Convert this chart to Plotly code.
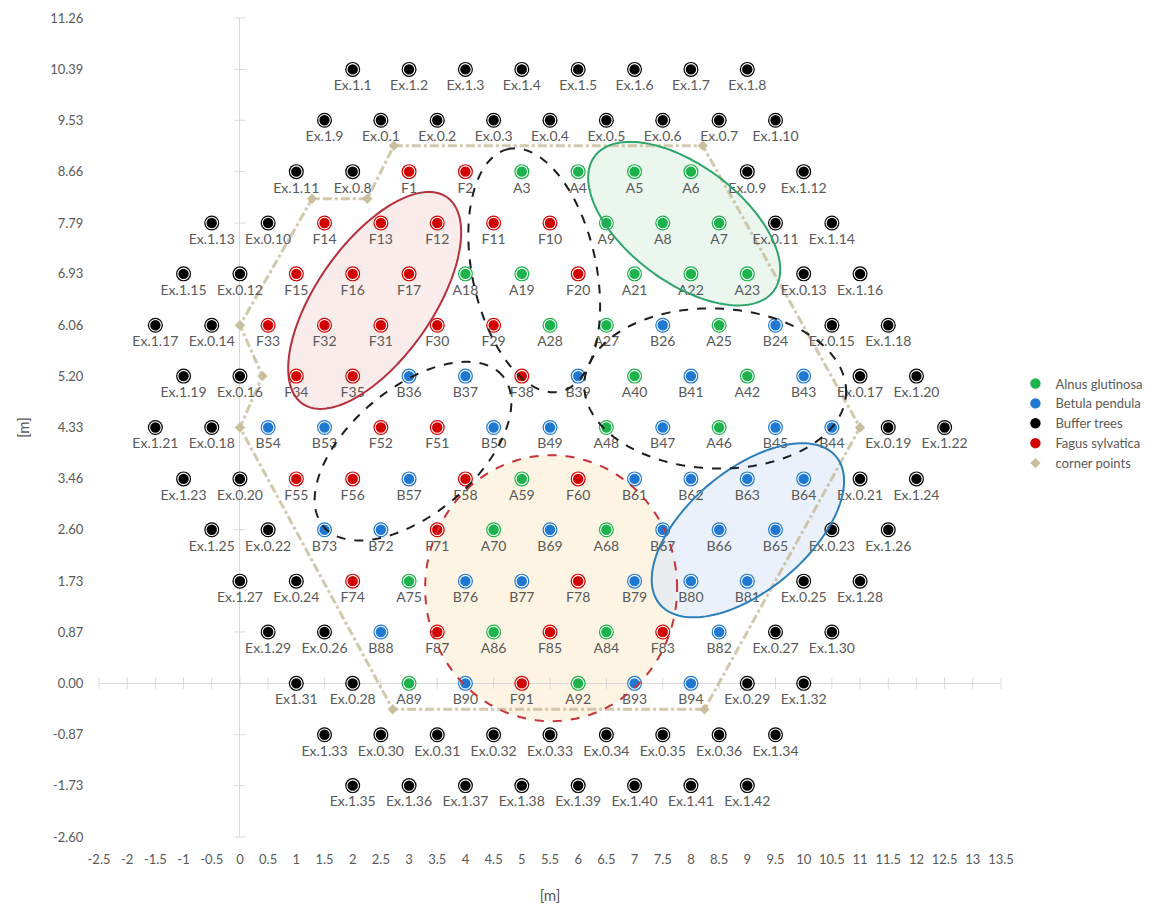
import numpy as np
import plotly.graph_objects as go

# ---------------- data ----------------
alnus_labels = ["A3", "A4", "A5", "A6", "A9", "A8", "A7", "A18", "A19", "A21", "A22", "A23",
                "A28", "A27", "A25", "A40", "A42", "A48", "A46", "A59", "A70", "A68", "A75",
                "A86", "A84", "A89", "A92"]
alnus_x = [5, 6, 7, 8, 6.5, 7.5, 8.5, 4, 5, 7, 8, 9,
           5.5, 6.5, 8.5, 7, 9, 6.5, 8.5, 5, 4.5, 6.5, 3,
           4.5, 6.5, 3, 6]
alnus_y = [8.66, 8.66, 8.66, 8.66, 7.79, 7.79, 7.79, 6.93, 6.93, 6.93, 6.93, 6.93,
           6.06, 6.06, 6.06, 5.20, 5.20, 4.33, 4.33, 3.46, 2.60, 2.60, 1.73,
           0.87, 0.87, 0.00, 0.00]

betula_labels = ["B26", "B24", "B36", "B37", "B39", "B41", "B43", "B54", "B53", "B50", "B49",
                 "B47", "B45", "B44", "B57", "B61", "B62", "B63", "B64", "B73", "B72", "B69",
                 "B67", "B66", "B65", "B76", "B77", "B79", "B80", "B81", "B88", "B82", "B90",
                 "B93", "B94"]
betula_x = [7.5, 9.5, 3, 4, 6, 8, 10, 0.5, 1.5, 4.5, 5.5,
            7.5, 9.5, 10.5, 3, 7, 8, 9, 10, 1.5, 2.5, 5.5,
            7.5, 8.5, 9.5, 4, 5, 7, 8, 9, 2.5, 8.5, 4,
            7, 8]
betula_y = [6.06, 6.06, 5.20, 5.20, 5.20, 5.20, 5.20, 4.33, 4.33, 4.33, 4.33,
            4.33, 4.33, 4.33, 3.46, 3.46, 3.46, 3.46, 3.46, 2.60, 2.60, 2.60,
            2.60, 2.60, 2.60, 1.73, 1.73, 1.73, 1.73, 1.73, 0.87, 0.87, 0.00,
            0.00, 0.00]

fagus_labels = ["F1", "F2", "F14", "F13", "F12", "F11", "F10", "F15", "F16", "F17", "F20",
                "F33", "F32", "F31", "F30", "F29", "F34", "F35", "F38", "F52", "F51", "F55",
                "F56", "F58", "F60", "F71", "F74", "F78", "F87", "F85", "F83", "F91"]
fagus_x = [3, 4, 1.5, 2.5, 3.5, 4.5, 5.5, 1, 2, 3, 6,
           0.5, 1.5, 2.5, 3.5, 4.5, 1, 2, 5, 2.5, 3.5, 1,
           2, 4, 6, 3.5, 2, 6, 3.5, 5.5, 7.5, 5]
fagus_y = [8.66, 8.66, 7.79, 7.79, 7.79, 7.79, 7.79, 6.93, 6.93, 6.93, 6.93,
           6.06, 6.06, 6.06, 6.06, 6.06, 5.20, 5.20, 5.20, 4.33, 4.33, 3.46,
           3.46, 3.46, 3.46, 2.60, 1.73, 1.73, 0.87, 0.87, 0.87, 0.00]

buffer_labels = [
    "Ex.1.1", "Ex.1.2", "Ex.1.3", "Ex.1.4", "Ex.1.5", "Ex.1.6", "Ex.1.7", "Ex.1.8",
    "Ex.1.9", "Ex.0.1", "Ex.0.2", "Ex.0.3", "Ex.0.4", "Ex.0.5", "Ex.0.6", "Ex.0.7", "Ex.1.10",
    "Ex.1.11", "Ex.0.8", "Ex.0.9", "Ex.1.12",
    "Ex.1.13", "Ex.0.10", "Ex.0.11", "Ex.1.14",
    "Ex.1.15", "Ex.0.12", "Ex.0.13", "Ex.1.16",
    "Ex.1.17", "Ex.0.14", "Ex.0.15", "Ex.1.18",
    "Ex.1.19", "Ex.0.16", "Ex.0.17", "Ex.1.20",
    "Ex.1.21", "Ex.0.18", "Ex.0.19", "Ex.1.22",
    "Ex.1.23", "Ex.0.20", "Ex.0.21", "Ex.1.24",
    "Ex.1.25", "Ex.0.22", "Ex.0.23", "Ex.1.26",
    "Ex.1.27", "Ex.0.24", "Ex.0.25", "Ex.1.28",
    "Ex.1.29", "Ex.0.26", "Ex.0.27", "Ex.1.30",
    "Ex1.31", "Ex.0.28", "Ex.0.29", "Ex.1.32",
    "Ex.1.33", "Ex.0.30", "Ex.0.31", "Ex.0.32", "Ex.0.33", "Ex.0.34", "Ex.0.35", "Ex.0.36", "Ex.1.34",
    "Ex.1.35", "Ex.1.36", "Ex.1.37", "Ex.1.38", "Ex.1.39", "Ex.1.40", "Ex.1.41", "Ex.1.42",
]
buffer_x = [
    2, 3, 4, 5, 6, 7, 8, 9,
    1.5, 2.5, 3.5, 4.5, 5.5, 6.5, 7.5, 8.5, 9.5,
    1, 2, 9, 10,
    -0.5, 0.5, 9.5, 10.5,
    -1, 0, 10, 11,
    -1.5, -0.5, 10.5, 11.5,
    -1, 0, 11, 12,
    -1.5, -0.5, 11.5, 12.5,
    -1, 0, 11, 12,
    -0.5, 0.5, 10.5, 11.5,
    0, 1, 10, 11,
    0.5, 1.5, 9.5, 10.5,
    1, 2, 9, 10,
    1.5, 2.5, 3.5, 4.5, 5.5, 6.5, 7.5, 8.5, 9.5,
    2, 3, 4, 5, 6, 7, 8, 9,
]
buffer_y = [
    10.39, 10.39, 10.39, 10.39, 10.39, 10.39, 10.39, 10.39,
    9.53, 9.53, 9.53, 9.53, 9.53, 9.53, 9.53, 9.53, 9.53,
    8.66, 8.66, 8.66, 8.66,
    7.79, 7.79, 7.79, 7.79,
    6.93, 6.93, 6.93, 6.93,
    6.06, 6.06, 6.06, 6.06,
    5.20, 5.20, 5.20, 5.20,
    4.33, 4.33, 4.33, 4.33,
    3.46, 3.46, 3.46, 3.46,
    2.60, 2.60, 2.60, 2.60,
    1.73, 1.73, 1.73, 1.73,
    0.87, 0.87, 0.87, 0.87,
    0.00, 0.00, 0.00, 0.00,
    -0.87, -0.87, -0.87, -0.87, -0.87, -0.87, -0.87, -0.87, -0.87,
    -1.73, -1.73, -1.73, -1.73, -1.73, -1.73, -1.73, -1.73,
]

corner_x = [2.73, 8.21, 11.0, 8.24, 2.71, 0.0, 0.4, 0.0, 1.28, 2.26]
corner_y = [9.10, 9.10, 4.33, -0.44, -0.44, 4.33, 5.20, 6.06, 8.20, 8.20]

x_tick_labels = ["-2.5", "-2", "-1.5", "-1", "-0.5", "0", "0.5", "1", "1.5", "2", "2.5", "3",
                 "3.5", "4", "4.5", "5", "5.5", "6", "6.5", "7", "7.5", "8", "8.5", "9", "9.5",
                 "10", "10.5", "11", "11.5", "12", "12.5", "13", "13.5"]
y_tick_labels = ["11.26", "10.39", "9.53", "8.66", "7.79", "6.93", "6.06", "5.20", "4.33",
                 "3.46", "2.60", "1.73", "0.87", "0.00", "-0.87", "-1.73", "-2.60"]

# ---------------- layout geometry ----------------
W, H = 1158, 913
ML, MR, MT, MB = 99, 157, 18, 76
XMIN, XMAX = -2.5, 13.5
YMIN, YMAX = -2.60, 11.26
PX_X = (W - ML - MR) / (XMAX - XMIN)
PX_Y = (H - MT - MB) / (YMAX - YMIN)

FONT = "Lato, 'Open Sans', sans-serif"
GRAY_TEXT = "#595959"
AXIS_GRAY = "#d9d9d9"

GREEN = "#1cb24c"
BLUE = "#1f78d1"
BLACK = "#000000"
RED = "#d20000"
CORNER = "#c9bf9f"

# highlighted groups: centre in data units, semi-axes in pixels, rotation in degrees
ELLIPSES = [
    dict(cx=5.52, cy=1.61, a=126, b=133, ang=0, line="#c8323a", dash="dash", fill="rgba(253,240,218,0.75)"),
    dict(cx=2.39, cy=6.48, a=126, b=58, ang=55, line="#b52f3c", dash="solid", fill="rgba(248,218,218,0.5)"),
    dict(cx=7.88, cy=7.78, a=112, b=58, ang=-37, line="#2ea56c", dash="solid", fill="rgba(222,240,228,0.6)"),
    dict(cx=9.01, cy=2.59, a=115, b=60, ang=40, line="#2c7fbb", dash="solid", fill="rgba(220,232,246,0.6)"),
    dict(cx=5.22, cy=6.99, a=124, b=62, ang=102, line="#1e1e1e", dash="dash", fill=None),
    dict(cx=8.43, cy=4.99, a=131, b=80, ang=-2, line="#1e1e1e", dash="dash", fill=None),
    dict(cx=3.07, cy=3.93, a=117, b=63, ang=40, line="#1e1e1e", dash="dash", fill=None),
]


def ellipse_path(cx, cy, a, b, ang, n=160):
    t = np.linspace(0, 2 * np.pi, n, endpoint=False)
    ex, ey = a * np.cos(t), b * np.sin(t)
    r = np.deg2rad(ang)
    px = ex * np.cos(r) - ey * np.sin(r)
    py = ex * np.sin(r) + ey * np.cos(r)
    xs = cx + px / PX_X
    ys = cy + py / PX_Y
    pts = [f"{x:.4f},{y:.4f}" for x, y in zip(xs, ys)]
    return "M " + " L ".join(pts) + " Z"


fig = go.Figure()

# tick marks crossing the axis lines
x_tick_vals = [float(t) for t in x_tick_labels]
y_tick_vals = [float(t) for t in y_tick_labels]
fig.add_trace(go.Scatter(
    x=x_tick_vals, y=[0] * len(x_tick_vals), mode="markers",
    marker=dict(symbol="line-ns-open", size=8, color=AXIS_GRAY,
                line=dict(color=AXIS_GRAY, width=1)),
    showlegend=False, hoverinfo="skip", cliponaxis=False))
fig.add_trace(go.Scatter(
    x=[0] * len(y_tick_vals), y=y_tick_vals, mode="markers",
    marker=dict(symbol="line-ew-open", size=8, color=AXIS_GRAY,
                line=dict(color=AXIS_GRAY, width=1)),
    showlegend=False, hoverinfo="skip", cliponaxis=False))

# outline of the plot through the corner points
fig.add_trace(go.Scatter(
    x=corner_x + corner_x[:1], y=corner_y + corner_y[:1], mode="lines",
    line=dict(color=CORNER, width=3, dash="dashdot"), opacity=0.85,
    showlegend=False, hoverinfo="skip"))


def add_species(name, xs, ys, labels, color):
    # outer disc carries the label text
    fig.add_trace(go.Scatter(
        x=xs, y=ys, mode="markers+text", text=labels, textposition="bottom center",
        textfont=dict(family=FONT, size=14, color=GRAY_TEXT),
        marker=dict(size=15, color=color, line=dict(width=0)),
        showlegend=False, hoverinfo="skip", cliponaxis=False))
    # inner disc with a thin white ring
    fig.add_trace(go.Scatter(
        x=xs, y=ys, mode="markers", name=name,
        marker=dict(size=11.5, color=color, line=dict(color="white", width=1.1)),
        hovertemplate="%{text}<extra></extra>", text=labels, cliponaxis=False))


add_species("Alnus glutinosa", alnus_x, alnus_y, alnus_labels, GREEN)
add_species("Betula pendula", betula_x, betula_y, betula_labels, BLUE)
add_species("Buffer trees", buffer_x, buffer_y, buffer_labels, BLACK)
add_species("Fagus sylvatica", fagus_x, fagus_y, fagus_labels, RED)

fig.add_trace(go.Scatter(
    x=corner_x, y=corner_y, mode="markers", name="corner points",
    marker=dict(symbol="diamond", size=8, color=CORNER), hoverinfo="skip"))

shapes = []
for e in ELLIPSES:
    path = ellipse_path(e["cx"], e["cy"], e["a"], e["b"], e["ang"])
    if e["fill"]:
        shapes.append(dict(type="path", path=path, xref="x", yref="y", layer="below",
                           fillcolor=e["fill"], line=dict(width=0)))
    shapes.append(dict(type="path", path=path, xref="x", yref="y", layer="above",
                       fillcolor="rgba(0,0,0,0)",
                       line=dict(color=e["line"], width=2, dash=e["dash"])))

fig.update_layout(
    width=W, height=H,
    margin=dict(l=ML, r=MR, t=MT, b=MB, autoexpand=False),
    paper_bgcolor="white", plot_bgcolor="white",
    font=dict(family=FONT, size=13, color=GRAY_TEXT),
    shapes=shapes,
    showlegend=True,
    legend=dict(x=1.016, y=0.572, xanchor="left", yanchor="top",
                font=dict(family=FONT, size=13, color=GRAY_TEXT),
                bgcolor="rgba(0,0,0,0)", itemwidth=30),
    xaxis=dict(range=[XMIN, XMAX], tickvals=x_tick_vals, ticktext=x_tick_labels,
               showgrid=False, zeroline=True, zerolinecolor=AXIS_GRAY, zerolinewidth=1,
               showline=False, ticks="outside", ticklen=10, tickcolor="rgba(0,0,0,0)",
               tickfont=dict(family=FONT, size=13, color=GRAY_TEXT),
               title=dict(text="[m]", font=dict(family=FONT, size=15, color=GRAY_TEXT),
                          standoff=24)),
    yaxis=dict(range=[YMIN, YMAX], tickvals=y_tick_vals, ticktext=y_tick_labels,
               showgrid=False, zeroline=True, zerolinecolor=AXIS_GRAY, zerolinewidth=1,
               showline=False, ticks="outside", ticklen=12, tickcolor="rgba(0,0,0,0)",
               tickfont=dict(family=FONT, size=13, color=GRAY_TEXT),
               title=dict(text="[m]", font=dict(family=FONT, size=15, color=GRAY_TEXT),
                          standoff=16)),
)

fig.write_html("out.html")
